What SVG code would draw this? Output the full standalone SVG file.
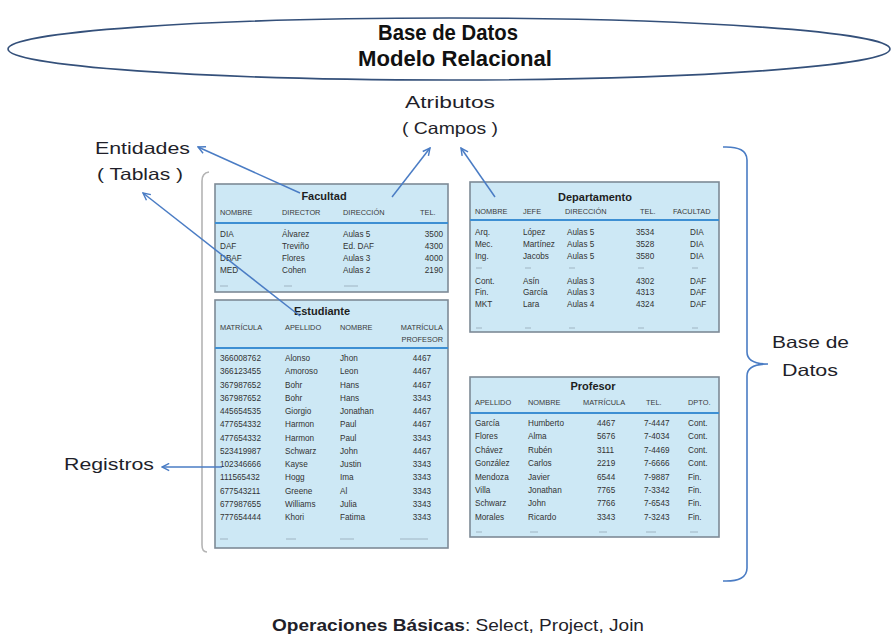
<svg xmlns="http://www.w3.org/2000/svg" width="896" height="636" viewBox="0 0 896 636">
<style>
.lbl{font-family:"Liberation Sans",Arial,sans-serif;font-size:16.5px;fill:#1f1f2a}
.ttl{font-family:"Liberation Sans",Arial,sans-serif;font-size:22px;font-weight:bold;fill:#111}
.tbox{fill:#cde8f5;stroke:#7d8a96;stroke-width:1.6}
.bl{stroke:#3d8fd3;stroke-width:2.2}
.tt{font-family:"Liberation Sans",Arial,sans-serif;font-size:11px;font-weight:bold;fill:#1e1e1e;text-anchor:middle}
.th{font-family:"Liberation Sans",Arial,sans-serif;font-size:7.4px;fill:#3a3a3a}
.td{font-family:"Liberation Sans",Arial,sans-serif;font-size:8.2px;fill:#333}
.r{text-anchor:end}
.dash{stroke:#9fb4c2;stroke-width:1}
.conn{stroke:#4a7cc4;stroke-width:1.5;fill:none;marker-end:url(#ah)}
</style>
<defs>
<marker id="ah" viewBox="0 0 10 10" refX="9" refY="5" markerWidth="9" markerHeight="9" markerUnits="userSpaceOnUse" orient="auto">
<path d="M1,1 L9,5 L1,9" fill="none" stroke="#4a7cc4" stroke-width="1.6"/>
</marker>
</defs>
<rect width="896" height="636" fill="#fff"/>

<g id="titulo">
<ellipse cx="449" cy="49" rx="441" ry="31" fill="none" stroke="#34507a" stroke-width="1.6"/>
<text class="ttl" x="448" y="40" text-anchor="middle" textLength="140" lengthAdjust="spacingAndGlyphs">Base de Datos</text>
<text class="ttl" x="455" y="66" text-anchor="middle" textLength="194" lengthAdjust="spacingAndGlyphs">Modelo Relacional</text>
</g>

<g id="atributos">
<text class="lbl" x="450" y="108" text-anchor="middle" textLength="90" lengthAdjust="spacingAndGlyphs">Atributos</text>
<text class="lbl" x="450" y="134" text-anchor="middle" textLength="96" lengthAdjust="spacingAndGlyphs">( Campos )</text>
</g>
<g id="entidades">
<text class="lbl" x="95" y="154" textLength="95" lengthAdjust="spacingAndGlyphs">Entidades</text>
<text class="lbl" x="97" y="180" textLength="86" lengthAdjust="spacingAndGlyphs">( Tablas )</text>
</g>
<g id="registros">
<text class="lbl" x="64" y="470" textLength="90" lengthAdjust="spacingAndGlyphs">Registros</text>
</g>
<g id="base-de-datos">
<path d="M723,147 Q747,146 747,160 L747,352 Q747,364 768,364 Q747,364 747,376 L747,568 Q747,582 723,581" fill="none" stroke="#4a7cc4" stroke-width="1.6"/>
<text class="lbl" x="772" y="348" textLength="77" lengthAdjust="spacingAndGlyphs">Base de</text>
<text class="lbl" x="782" y="376" textLength="56" lengthAdjust="spacingAndGlyphs">Datos</text>
</g>
<g id="operaciones">
<text class="lbl" x="458" y="631" text-anchor="middle" textLength="372" lengthAdjust="spacingAndGlyphs"><tspan font-weight="bold">Operaciones Básicas</tspan>: Select, Project, Join</text>
</g>

<g id="marco">
<path d="M209,172 Q202,173 202,181 L202,545 Q202,552 207,552" fill="none" stroke="#b4b4b4" stroke-width="1.6"/>
</g>

<g id="facultad">
<rect class="tbox" x="215" y="184" width="233" height="108"/>
<text class="tt" x="324" y="200">Facultad</text>
<text class="th" x="220" y="215">NOMBRE</text>
<text class="th" x="282" y="215">DIRECTOR</text>
<text class="th" x="343" y="215">DIRECCIÓN</text>
<text class="th" x="420" y="215">TEL.</text>
<line class="bl" x1="215" y1="223" x2="448" y2="223"/>
<g class="td">
<text x="220" y="237">DIA</text><text x="282" y="237">Álvarez</text><text x="343" y="237">Aulas 5</text><text class="r" x="443" y="237">3500</text>
<text x="220" y="249">DAF</text><text x="282" y="249">Treviño</text><text x="343" y="249">Ed. DAF</text><text class="r" x="443" y="249">4300</text>
<text x="220" y="261">DBAF</text><text x="282" y="261">Flores</text><text x="343" y="261">Aulas 3</text><text class="r" x="443" y="261">4000</text>
<text x="220" y="273">MED</text><text x="282" y="273">Cohen</text><text x="343" y="273">Aulas 2</text><text class="r" x="443" y="273">2190</text>
</g>
<path class="dash" d="M220,286h8M284,286h8M344,286h14"/>
</g>

<g id="estudiante">
<rect class="tbox" x="215" y="300" width="233" height="248"/>
<text class="tt" x="322" y="315">Estudiante</text>
<text class="th" x="220" y="330">MATRÍCULA</text>
<text class="th" x="285" y="330">APELLIDO</text>
<text class="th" x="340" y="330">NOMBRE</text>
<text class="th r" x="443" y="330">MATRÍCULA</text>
<text class="th r" x="443" y="342">PROFESOR</text>
<line class="bl" x1="215" y1="348" x2="448" y2="348"/>
<g class="td">
<text x="220" y="361">366008762</text><text x="285" y="361">Alonso</text><text x="340" y="361">Jhon</text><text class="r" x="431" y="361">4467</text>
<text x="220" y="374">366123455</text><text x="285" y="374">Amoroso</text><text x="340" y="374">Leon</text><text class="r" x="431" y="374">4467</text>
<text x="220" y="388">367987652</text><text x="285" y="388">Bohr</text><text x="340" y="388">Hans</text><text class="r" x="431" y="388">4467</text>
<text x="220" y="401">367987652</text><text x="285" y="401">Bohr</text><text x="340" y="401">Hans</text><text class="r" x="431" y="401">3343</text>
<text x="220" y="414">445654535</text><text x="285" y="414">Giorgio</text><text x="340" y="414">Jonathan</text><text class="r" x="431" y="414">4467</text>
<text x="220" y="427">477654332</text><text x="285" y="427">Harmon</text><text x="340" y="427">Paul</text><text class="r" x="431" y="427">4467</text>
<text x="220" y="441">477654332</text><text x="285" y="441">Harmon</text><text x="340" y="441">Paul</text><text class="r" x="431" y="441">3343</text>
<text x="220" y="454">523419987</text><text x="285" y="454">Schwarz</text><text x="340" y="454">John</text><text class="r" x="431" y="454">4467</text>
<text x="220" y="467">102346666</text><text x="285" y="467">Kayse</text><text x="340" y="467">Justin</text><text class="r" x="431" y="467">3343</text>
<text x="220" y="480">111565432</text><text x="285" y="480">Hogg</text><text x="340" y="480">Ima</text><text class="r" x="431" y="480">3343</text>
<text x="220" y="494">677543211</text><text x="285" y="494">Greene</text><text x="340" y="494">Al</text><text class="r" x="431" y="494">3343</text>
<text x="220" y="507">677987655</text><text x="285" y="507">Williams</text><text x="340" y="507">Julia</text><text class="r" x="431" y="507">3343</text>
<text x="220" y="520">777654444</text><text x="285" y="520">Khori</text><text x="340" y="520">Fatima</text><text class="r" x="431" y="520">3343</text>
</g>
<path class="dash" d="M220,539h8M286,539h10M340,539h14M400,539h28"/>
</g>

<g id="departamento">
<rect class="tbox" x="470" y="182" width="249" height="150"/>
<text class="tt" x="595" y="201">Departamento</text>
<text class="th" x="475" y="214">NOMBRE</text>
<text class="th" x="523" y="214">JEFE</text>
<text class="th" x="565" y="214">DIRECCIÓN</text>
<text class="th" x="640" y="214">TEL.</text>
<text class="th" x="673" y="214">FACULTAD</text>
<line class="bl" x1="470" y1="220" x2="719" y2="220"/>
<g class="td">
<text x="475" y="235">Arq.</text><text x="523" y="235">López</text><text x="567" y="235">Aulas 5</text><text x="636" y="235">3534</text><text x="690" y="235">DIA</text>
<text x="475" y="247">Mec.</text><text x="523" y="247">Martínez</text><text x="567" y="247">Aulas 5</text><text x="636" y="247">3528</text><text x="690" y="247">DIA</text>
<text x="475" y="259">Ing.</text><text x="523" y="259">Jacobs</text><text x="567" y="259">Aulas 5</text><text x="636" y="259">3580</text><text x="690" y="259">DIA</text>
<text x="475" y="284">Cont.</text><text x="523" y="284">Asín</text><text x="567" y="284">Aulas 3</text><text x="636" y="284">4302</text><text x="690" y="284">DAF</text>
<text x="475" y="295">Fin.</text><text x="523" y="295">García</text><text x="567" y="295">Aulas 3</text><text x="636" y="295">4313</text><text x="690" y="295">DAF</text>
<text x="475" y="307">MKT</text><text x="523" y="307">Lara</text><text x="567" y="307">Aulas 4</text><text x="636" y="307">4324</text><text x="690" y="307">DAF</text>
</g>
<path class="dash" d="M476,268h6M525,268h6M569,268h6M638,268h6M692,268h6M476,328h6M525,328h6M569,328h6M638,328h6M692,328h6"/>
</g>

<g id="profesor">
<rect class="tbox" x="470" y="377" width="249" height="160"/>
<text class="tt" x="593" y="390">Profesor</text>
<text class="th" x="475" y="405">APELLIDO</text>
<text class="th" x="528" y="405">NOMBRE</text>
<text class="th" x="583" y="405">MATRÍCULA</text>
<text class="th" x="646" y="405">TEL.</text>
<text class="th" x="688" y="405">DPTO.</text>
<line class="bl" x1="470" y1="413" x2="719" y2="413"/>
<g class="td">
<text x="475" y="426">García</text><text x="528" y="426">Humberto</text><text x="597" y="426">4467</text><text x="644" y="426">7-4447</text><text x="688" y="426">Cont.</text>
<text x="475" y="439">Flores</text><text x="528" y="439">Alma</text><text x="597" y="439">5676</text><text x="644" y="439">7-4034</text><text x="688" y="439">Cont.</text>
<text x="475" y="453">Chávez</text><text x="528" y="453">Rubén</text><text x="597" y="453">3111</text><text x="644" y="453">7-4469</text><text x="688" y="453">Cont.</text>
<text x="475" y="466">González</text><text x="528" y="466">Carlos</text><text x="597" y="466">2219</text><text x="644" y="466">7-6666</text><text x="688" y="466">Cont.</text>
<text x="475" y="480">Mendoza</text><text x="528" y="480">Javier</text><text x="597" y="480">6544</text><text x="644" y="480">7-9887</text><text x="688" y="480">Fin.</text>
<text x="475" y="493">Villa</text><text x="528" y="493">Jonathan</text><text x="597" y="493">7765</text><text x="644" y="493">7-3342</text><text x="688" y="493">Fin.</text>
<text x="475" y="506">Schwarz</text><text x="528" y="506">John</text><text x="597" y="506">7766</text><text x="644" y="506">7-6543</text><text x="688" y="506">Fin.</text>
<text x="475" y="520">Morales</text><text x="528" y="520">Ricardo</text><text x="597" y="520">3343</text><text x="644" y="520">7-3243</text><text x="688" y="520">Fin.</text>
</g>
<path class="dash" d="M476,532h6M530,532h8M599,532h8M646,532h10M690,532h8"/>
</g>

<g id="conectores">
<line class="conn" x1="300" y1="193" x2="198" y2="147"/>
<line class="conn" x1="300" y1="316" x2="143" y2="193"/>
<line class="conn" x1="392" y1="197" x2="430" y2="148"/>
<line class="conn" x1="495" y1="197" x2="461" y2="148"/>
<line class="conn" x1="222" y1="467" x2="162" y2="467"/>
</g>
</svg>
